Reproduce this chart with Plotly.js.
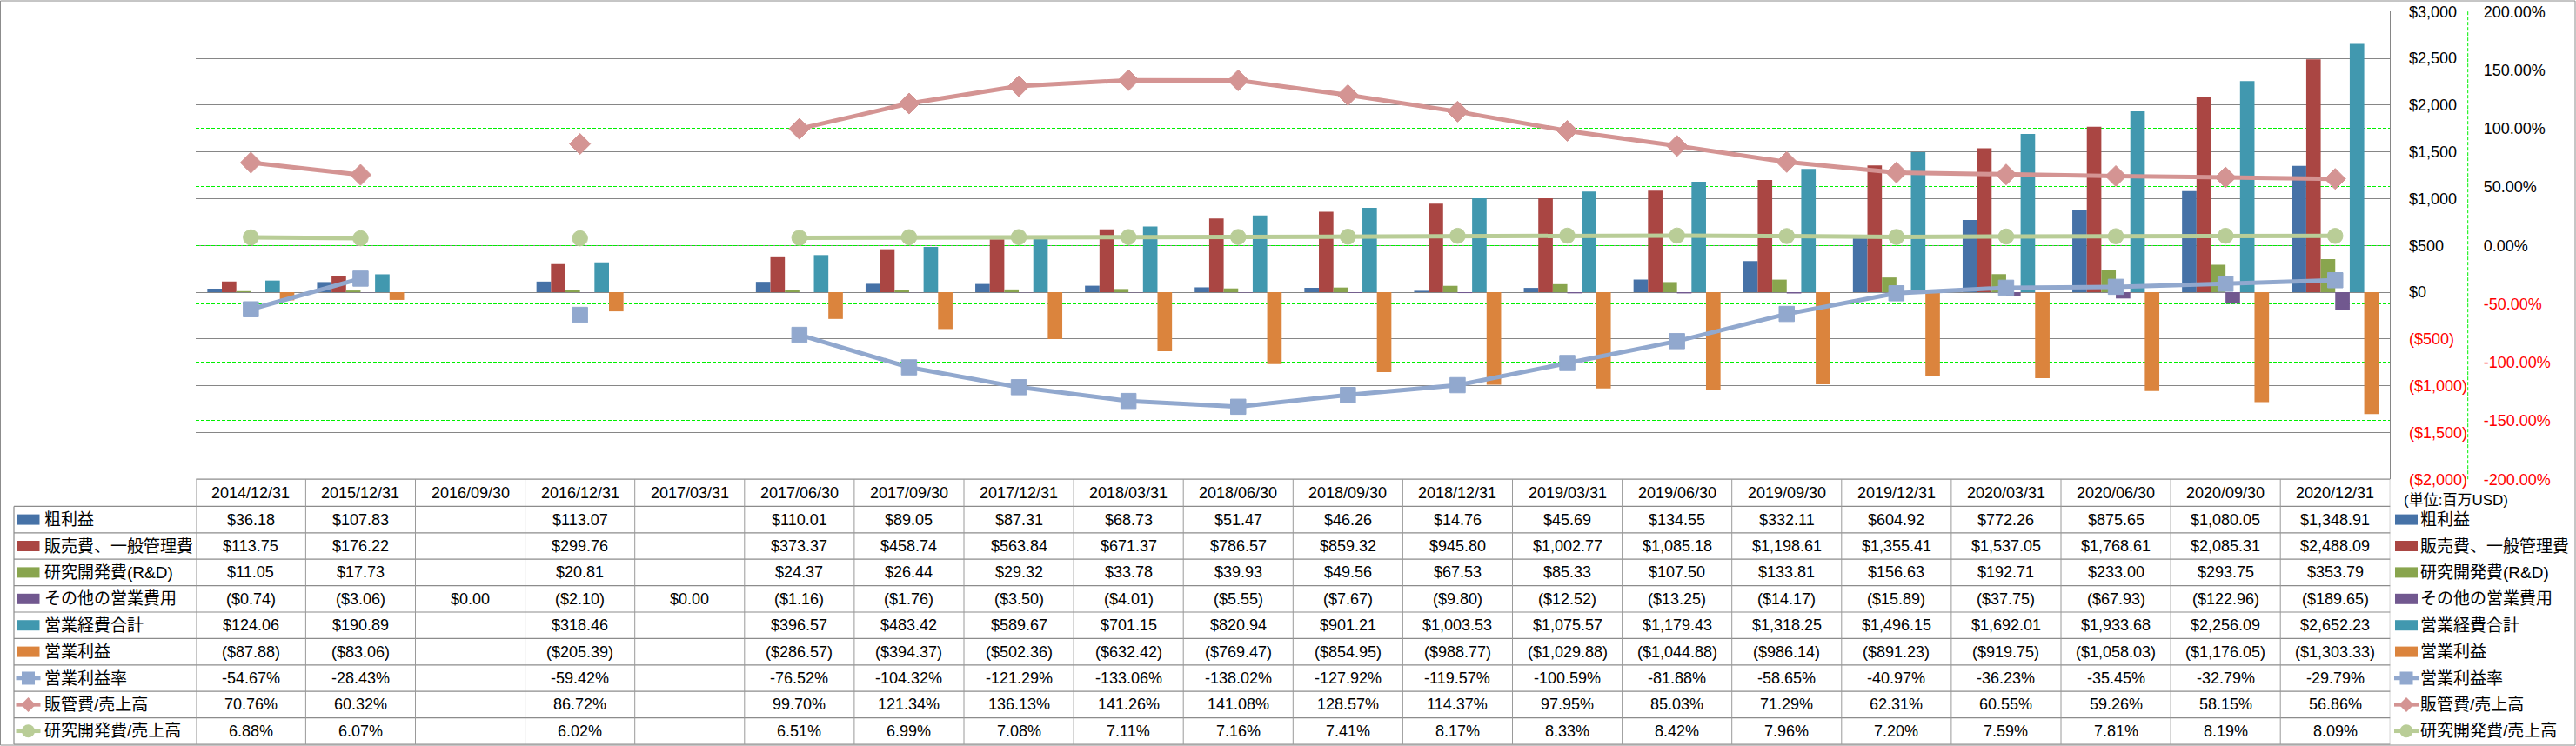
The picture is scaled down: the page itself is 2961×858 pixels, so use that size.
<!DOCTYPE html>
<html><head><meta charset="utf-8">
<script src="https://cdn.plot.ly/plotly-3.0.1.min.js"></script>
<style>html,body{margin:0;padding:0;background:#fff;}#chart{width:2961px;height:858px;}</style>
</head><body><div id="chart"></div>
<script>
// ---------------- data ----------------
const categories = ['2014/12/31','2015/12/31','2016/09/30','2016/12/31','2017/03/31','2017/06/30','2017/09/30','2017/12/31','2018/03/31','2018/06/30','2018/09/30','2018/12/31','2019/03/31','2019/06/30','2019/09/30','2019/12/31','2020/03/31','2020/06/30','2020/09/30','2020/12/31'];
const grossProfit = [36.18,107.83,null,113.07,null,110.01,89.05,87.31,68.73,51.47,46.26,14.76,45.69,134.55,332.11,604.92,772.26,875.65,1080.05,1348.91];
const sgaExpense = [113.75,176.22,null,299.76,null,373.37,458.74,563.84,671.37,786.57,859.32,945.80,1002.77,1085.18,1198.61,1355.41,1537.05,1768.61,2085.31,2488.09];
const rndExpense = [11.05,17.73,null,20.81,null,24.37,26.44,29.32,33.78,39.93,49.56,67.53,85.33,107.50,133.81,156.63,192.71,233.00,293.75,353.79];
const otherOpex = [-0.74,-3.06,0.00,-2.10,0.00,-1.16,-1.76,-3.50,-4.01,-5.55,-7.67,-9.80,-12.52,-13.25,-14.17,-15.89,-37.75,-67.93,-122.96,-189.65];
const totalOpex = [124.06,190.89,null,318.46,null,396.57,483.42,589.67,701.15,820.94,901.21,1003.53,1075.57,1179.43,1318.25,1496.15,1692.01,1933.68,2256.09,2652.23];
const operatingIncome = [-87.88,-83.06,null,-205.39,null,-286.57,-394.37,-502.36,-632.42,-769.47,-854.95,-988.77,-1029.88,-1044.88,-986.14,-891.23,-919.75,-1058.03,-1176.05,-1303.33];
const operatingMargin = [-54.67,-28.43,null,-59.42,null,-76.52,-104.32,-121.29,-133.06,-138.02,-127.92,-119.57,-100.59,-81.88,-58.65,-40.97,-36.23,-35.45,-32.79,-29.79];
const sgaRatio = [70.76,60.32,null,86.72,null,99.70,121.34,136.13,141.26,141.08,128.57,114.37,97.95,85.03,71.29,62.31,60.55,59.26,58.15,56.86];
const rndRatio = [6.88,6.07,null,6.02,null,6.51,6.99,7.08,7.11,7.16,7.41,8.17,8.33,8.42,7.96,7.20,7.59,7.81,8.19,8.09];

const seriesNames = ['粗利益','販売費、一般管理費','研究開発費(R&D)','その他の営業費用','営業経費合計','営業利益','営業利益率','販管費/売上高','研究開発費/売上高'];
const usdTickValues = [3000,2500,2000,1500,1000,500,0,-500,-1000,-1500,-2000];
const usdTickLabels = ['$3,000','$2,500','$2,000','$1,500','$1,000','$500','$0','($500)','($1,000)','($1,500)','($2,000)'];
const pctTickValues = [200,150,100,50,0,-50,-100,-150,-200];
const pctTickLabels = ['200.00%','150.00%','100.00%','50.00%','0.00%','-50.00%','-100.00%','-150.00%','-200.00%'];
const unitNote = '(単位:百万USD)';

// ---------------- styles ----------------
const W = 2961, H = 858;
const px = v => v / W;
const py = v => 1 - v / H;
const LAT = '"Liberation Sans", Arial, sans-serif';
const MIX = '"Liberation Sans", "Noto Sans CJK JP", sans-serif';
const barColors = ['#4672A7','#AA4643','#89A54E','#71588F','#4198AF','#DB843D'];
const lineColors = ['#91A8CE','#D49493','#B9CD97'];
const lineSymbols = ['square','diamond','circle'];
const gridGrey = '#868686';
const dashGreen = '#00F000';
const RED = '#FF0000';

const plotL = 225.3, plotR = 2747.3, plotT = 13.2, plotB = 551.2;
const headerTop = 551.2, headerBot = 582.4, rowH = 30.4;

const barSeries = [grossProfit, sgaExpense, rndExpense, otherOpex, totalOpex, operatingIncome];
const lineSeries = [operatingMargin, sgaRatio, rndRatio];

const traces = [];
barSeries.forEach((vals, k) => {
  traces.push({type:'bar', name:seriesNames[k], x:categories, y:vals, xaxis:'x', yaxis:'y',
    marker:{color:barColors[k], line:{width:0}}, hoverinfo:'skip', showlegend:false});
});
lineSeries.forEach((vals, k) => {
  traces.push({type:'scatter', mode:'lines+markers', name:seriesNames[6+k], x:categories, y:vals,
    xaxis:'x', yaxis:'y2', connectgaps:false,
    line:{color:lineColors[k], width:5},
    marker:{symbol:lineSymbols[k], size: k===1 ? 18.5 : 17.5, color:lineColors[k], line:{color:lineColors[k], width:1}},
    hoverinfo:'skip', showlegend:false, cliponaxis:false});
});

const colorize = (label, neg) => neg ? `<span style="color:${RED}">${label}</span>` : label;

// ---------------- table ----------------
const fmtUSD = v => {
  const s = Math.abs(v).toLocaleString('en-US',{minimumFractionDigits:2, maximumFractionDigits:2});
  return v < 0 ? '($' + s + ')' : '$' + s;
};
const fmtPct = v => v.toFixed(2) + '%';
const tableRows = [
  {vals:grossProfit, f:fmtUSD}, {vals:sgaExpense, f:fmtUSD}, {vals:rndExpense, f:fmtUSD},
  {vals:otherOpex, f:fmtUSD}, {vals:totalOpex, f:fmtUSD}, {vals:operatingIncome, f:fmtUSD},
  {vals:operatingMargin, f:fmtPct}, {vals:sgaRatio, f:fmtPct}, {vals:rndRatio, f:fmtPct}
];

const annotations = [];
const shapes = [];
const rowCenter = r => headerBot + rowH * (r + 0.5);

categories.forEach((c, i) => {
  annotations.push({xref:'x', yref:'paper', x:i, y:py((headerTop+headerBot)/2), text:c, showarrow:false,
    xanchor:'center', yanchor:'middle', font:{family:LAT, size:18, color:'#000'}});
});
tableRows.forEach((row, r) => {
  row.vals.forEach((v, i) => {
    if (v === null) return;
    annotations.push({xref:'x', yref:'paper', x:i, y:py(rowCenter(r)), text:row.f(v), showarrow:false,
      xanchor:'center', yanchor:'middle', font:{family:LAT, size:18, color:'#000'}});
  });
});

// labels (left column and right legend)
function addKey(xLeft, yc, k) {
  if (k < 6) {
    shapes.push({type:'rect', xref:'paper', yref:'paper', x0:px(xLeft), x1:px(xLeft+26), y0:py(yc-6), y1:py(yc+6),
      fillcolor:barColors[k], line:{width:0}, layer:'above'});
  } else {
    const c = lineColors[k-6], cx = xLeft + 13;
    shapes.push({type:'line', xref:'paper', yref:'paper', x0:px(xLeft-1), x1:px(xLeft+27), y0:py(yc), y1:py(yc),
      line:{color:c, width:4.5}, layer:'above'});
    if (k === 6) {
      shapes.push({type:'rect', xref:'paper', yref:'paper', x0:px(cx-7.5), x1:px(cx+7.5), y0:py(yc-7.5), y1:py(yc+7.5),
        fillcolor:c, line:{width:0}, layer:'above'});
    } else if (k === 7) {
      const d = 8.5;
      shapes.push({type:'path', xref:'paper', yref:'paper',
        path:`M${px(cx-d)},${py(yc)} L${px(cx)},${py(yc-d)} L${px(cx+d)},${py(yc)} L${px(cx)},${py(yc+d)} Z`,
        fillcolor:c, line:{width:0}, layer:'above'});
    } else {
      shapes.push({type:'circle', xref:'paper', yref:'paper', x0:px(cx-7.5), x1:px(cx+7.5), y0:py(yc-7.5), y1:py(yc+7.5),
        fillcolor:c, line:{width:0}, layer:'above'});
    }
  }
}
seriesNames.forEach((name, k) => {
  const yc = rowCenter(k);
  addKey(19.5, yc, k);
  annotations.push({xref:'paper', yref:'paper', x:px(48.5), y:py(yc), text:name, showarrow:false,
    xanchor:'left', yanchor:'middle', font:{family:MIX, size:19, color:'#000'}});
  addKey(2753, yc, k);
  annotations.push({xref:'paper', yref:'paper', x:px(2780), y:py(yc), text:name, showarrow:false,
    xanchor:'left', yanchor:'middle', font:{family:MIX, size:19, color:'#000'}});
});
annotations.push({xref:'paper', yref:'paper', x:px(2761), y:py(575), text:unitNote, showarrow:false,
  xanchor:'left', yanchor:'middle', font:{family:MIX, size:17, color:'#000'}});

// table grid lines
const lineStyle = {color:'#8C8C8C', width:1.2};
shapes.push({type:'line', xref:'paper', yref:'paper', x0:px(plotL), x1:px(plotR), y0:py(headerTop), y1:py(headerTop), line:lineStyle});
for (let r = 0; r <= 9; r++) {
  const yy = headerBot + rowH * r;
  shapes.push({type:'line', xref:'paper', yref:'paper', x0:px(16), x1:px(plotR), y0:py(yy), y1:py(yy), line:lineStyle});
}
for (let i = 0; i <= categories.length; i++) {
  shapes.push({type:'line', xref:'x', yref:'paper', x0:i-0.5, x1:i-0.5, y0:py(headerTop), y1:py(headerBot+rowH*9), line:{color:'#9A9A9A', width:1}});
}
shapes.push({type:'line', xref:'paper', yref:'paper', x0:px(16), x1:px(16), y0:py(headerBot), y1:py(headerBot+rowH*9), line:lineStyle});
// secondary axis line (dashed green)
shapes.push({type:'line', xref:'paper', yref:'paper', x0:px(2836.7), x1:px(2836.7), y0:py(plotB), y1:py(plotT),
  line:{color:dashGreen, width:1, dash:'4px,2px'}});
// outer chart border
shapes.push({type:'rect', xref:'paper', yref:'paper', x0:px(0.5), x1:px(2960), y0:py(857), y1:py(1), line:{color:'#8C8C8C', width:1}, fillcolor:'rgba(0,0,0,0)'});

const layout = {
  width: W, height: H,
  margin: {l:0, r:0, t:0, b:0, pad:0},
  paper_bgcolor:'#FFFFFF', plot_bgcolor:'rgba(0,0,0,0)',
  showlegend:false,
  barmode:'group', bargap:0.207, bargroupgap:0,
  font:{family:MIX, size:18, color:'#000'},
  xaxis:{type:'category', categoryarray:categories, categoryorder:'array', domain:[px(plotL), px(plotR)],
    range:[-0.5, categories.length-0.5], showticklabels:false, showgrid:false, zeroline:false, showline:false, ticks:'', fixedrange:true},
  yaxis:{domain:[py(plotB), py(plotT)], range:[-2000,3000], side:'right', anchor:'x',
    tickmode:'array', tickvals:usdTickValues, ticktext:usdTickLabels.map((t,i)=>colorize(t, usdTickValues[i]<0)),
    showgrid:true, gridcolor:gridGrey, gridwidth:1, zeroline:true, zerolinecolor:gridGrey, zerolinewidth:1,
    showline:true, linecolor:gridGrey, linewidth:1, ticks:'', ticklabelstandoff:17,
    tickfont:{family:LAT, size:18, color:'#000'}, fixedrange:true},
  yaxis2:{overlaying:'y', side:'right', anchor:'free', position:px(2836.7), range:[-200,200],
    tickmode:'array', tickvals:pctTickValues, ticktext:pctTickLabels.map((t,i)=>colorize(t, pctTickValues[i]<0)),
    showgrid:true, gridcolor:dashGreen, griddash:'4px,2px', gridwidth:1, zeroline:false, showline:false, ticks:'',
    ticklabelstandoff:17, tickfont:{family:LAT, size:18, color:'#000'}, fixedrange:true},
  annotations: annotations,
  shapes: shapes
};

Plotly.newPlot('chart', traces, layout, {displayModeBar:false, staticPlot:true});
</script></body></html>
